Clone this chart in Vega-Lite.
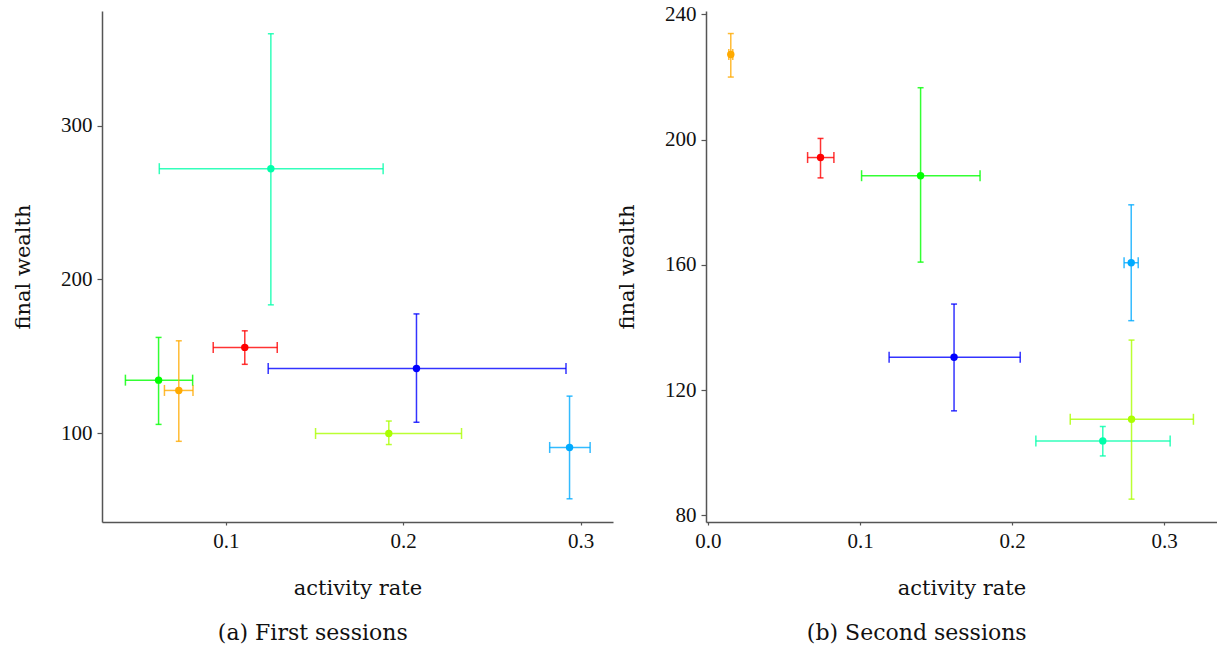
{
  "$schema": "https://vega.github.io/schema/vega-lite/v6.json",
  "background": "white",
  "padding": {"left": 12, "top": 3, "right": 0, "bottom": 0},
  "config": {
    "view": {"stroke": null},
    "font": "DejaVu Serif",
    "axis": {
      "grid": false,
      "domainColor": "#555555",
      "domainWidth": 1.5,
      "tickColor": "#555555",
      "tickWidth": 1.2,
      "tickSize": 5,
      "labelFont": "Liberation Serif",
      "labelFontSize": 21,
      "labelColor": "#111111",
      "labelPadding": 5,
      "titleFont": "DejaVu Serif",
      "titleFontSize": 21,
      "titleFontWeight": "normal",
      "titleColor": "#111111"
    },
    "title": {"font": "DejaVu Serif", "fontSize": 22, "fontWeight": "normal", "color": "#111111"},
    "concat": {"spacing": 3}
  },
  "datasets": {
    "first": [
      {"group": "g1", "x": 0.1107, "xlo": 0.0929, "xhi": 0.1290, "y": 155.7, "ylo": 144.7, "yhi": 166.5},
      {"group": "g2", "x": 0.0735, "xlo": 0.0654, "xhi": 0.0815, "y": 127.7, "ylo": 94.6, "yhi": 160.0},
      {"group": "g3", "x": 0.1919, "xlo": 0.1506, "xhi": 0.2329, "y": 99.7, "ylo": 92.5, "yhi": 107.8},
      {"group": "g4", "x": 0.0621, "xlo": 0.0434, "xhi": 0.0813, "y": 134.4, "ylo": 105.6, "yhi": 162.2},
      {"group": "g5", "x": 0.1254, "xlo": 0.0625, "xhi": 0.1887, "y": 272.0, "ylo": 183.4, "yhi": 359.8},
      {"group": "g6", "x": 0.2938, "xlo": 0.2826, "xhi": 0.3054, "y": 90.6, "ylo": 57.2, "yhi": 124.0},
      {"group": "g7", "x": 0.2075, "xlo": 0.1239, "xhi": 0.2918, "y": 142.0, "ylo": 107.0, "yhi": 177.5}
    ],
    "second": [
      {"group": "g1", "x": 0.0740, "xlo": 0.0655, "xhi": 0.0828, "y": 194.3, "ylo": 187.8, "yhi": 200.4},
      {"group": "g2", "x": 0.0150, "xlo": 0.0137, "xhi": 0.0163, "y": 227.2, "ylo": 220.0, "yhi": 233.9},
      {"group": "g3", "x": 0.2785, "xlo": 0.2382, "xhi": 0.3192, "y": 110.7, "ylo": 85.2, "yhi": 136.0},
      {"group": "g4", "x": 0.1398, "xlo": 0.1010, "xhi": 0.1789, "y": 188.5, "ylo": 160.9, "yhi": 216.6},
      {"group": "g5", "x": 0.2596, "xlo": 0.2156, "xhi": 0.3039, "y": 103.8, "ylo": 99.0, "yhi": 108.4},
      {"group": "g6", "x": 0.2783, "xlo": 0.2736, "xhi": 0.2829, "y": 160.7, "ylo": 142.2, "yhi": 179.2},
      {"group": "g7", "x": 0.1618, "xlo": 0.1191, "xhi": 0.2053, "y": 130.5, "ylo": 113.4, "yhi": 147.5}
    ]
  },
  "hconcat": [
    {
      "width": 511,
      "height": 511,
      "data": {"name": "first"},
      "title": {"text": "(a) First sessions", "orient": "bottom", "offset": 25, "frame": "bounds", "anchor": "middle"},
      "encoding": {
        "x": {"field": "x", "type": "quantitative", "title": "activity rate",
              "scale": {"domain": [0.0302, 0.3183], "nice": false, "zero": false},
              "axis": {"values": [0.1, 0.2, 0.3], "format": ".1f", "tickSize": 3, "labelPadding": 5, "titlePadding": 26}},
        "y": {"field": "y", "type": "quantitative", "title": "final wealth",
              "scale": {"domain": [42.1, 374.6], "nice": false, "zero": false},
              "axis": {"values": [100, 200, 300], "titlePadding": 27}},
        "color": {"field": "group", "type": "nominal", "legend": null,
                  "scale": {"domain": ["g1","g2","g3","g4","g5","g6","g7"],
                            "range": ["#FF0000","#FFAA00","#AAFF00","#00FF00","#00FFAA","#00AAFF","#0000FF"]}}
      },
      "layer": [
        {"mark": {"type": "rule", "strokeWidth": 1.5, "opacity": 0.8}, "encoding": {"x": {"field": "xlo", "type": "quantitative"}, "x2": {"field": "xhi"}}},
        {"mark": {"type": "rule", "strokeWidth": 1.5, "opacity": 0.8}, "encoding": {"y": {"field": "ylo", "type": "quantitative"}, "y2": {"field": "yhi"}}},
        {"mark": {"type": "tick", "orient": "vertical", "size": 11, "thickness": 1.5, "opacity": 0.8}, "encoding": {"x": {"field": "xlo", "type": "quantitative"}}},
        {"mark": {"type": "tick", "orient": "vertical", "size": 11, "thickness": 1.5, "opacity": 0.8}, "encoding": {"x": {"field": "xhi", "type": "quantitative"}}},
        {"mark": {"type": "tick", "orient": "horizontal", "size": 6, "thickness": 1.5, "opacity": 0.8}, "encoding": {"y": {"field": "ylo", "type": "quantitative"}}},
        {"mark": {"type": "tick", "orient": "horizontal", "size": 6, "thickness": 1.5, "opacity": 0.8}, "encoding": {"y": {"field": "yhi", "type": "quantitative"}}},
        {"mark": {"type": "point", "filled": true, "shape": "circle", "size": 55, "opacity": 1}}
      ]
    },
    {
      "width": 511,
      "height": 511,
      "data": {"name": "second"},
      "title": {"text": "(b) Second sessions", "orient": "bottom", "offset": 25, "frame": "bounds", "anchor": "middle"},
      "encoding": {
        "x": {"field": "x", "type": "quantitative", "title": "activity rate",
              "scale": {"domain": [-0.0013, 0.3347], "nice": false, "zero": false},
              "axis": {"values": [0, 0.1, 0.2, 0.3], "format": ".1f", "tickSize": 3, "labelPadding": 5, "titlePadding": 26}},
        "y": {"field": "y", "type": "quantitative", "title": "final wealth",
              "scale": {"domain": [77.9, 241.1], "nice": false, "zero": false},
              "axis": {"values": [80, 120, 160, 200, 240], "titlePadding": 27}},
        "color": {"field": "group", "type": "nominal", "legend": null,
                  "scale": {"domain": ["g1","g2","g3","g4","g5","g6","g7"],
                            "range": ["#FF0000","#FFAA00","#AAFF00","#00FF00","#00FFAA","#00AAFF","#0000FF"]}}
      },
      "layer": [
        {"mark": {"type": "rule", "strokeWidth": 1.5, "opacity": 0.8}, "encoding": {"x": {"field": "xlo", "type": "quantitative"}, "x2": {"field": "xhi"}}},
        {"mark": {"type": "rule", "strokeWidth": 1.5, "opacity": 0.8}, "encoding": {"y": {"field": "ylo", "type": "quantitative"}, "y2": {"field": "yhi"}}},
        {"mark": {"type": "tick", "orient": "vertical", "size": 11, "thickness": 1.5, "opacity": 0.8}, "encoding": {"x": {"field": "xlo", "type": "quantitative"}}},
        {"mark": {"type": "tick", "orient": "vertical", "size": 11, "thickness": 1.5, "opacity": 0.8}, "encoding": {"x": {"field": "xhi", "type": "quantitative"}}},
        {"mark": {"type": "tick", "orient": "horizontal", "size": 6, "thickness": 1.5, "opacity": 0.8}, "encoding": {"y": {"field": "ylo", "type": "quantitative"}}},
        {"mark": {"type": "tick", "orient": "horizontal", "size": 6, "thickness": 1.5, "opacity": 0.8}, "encoding": {"y": {"field": "yhi", "type": "quantitative"}}},
        {"mark": {"type": "point", "filled": true, "shape": "circle", "size": 55, "opacity": 1}}
      ]
    }
  ]
}
